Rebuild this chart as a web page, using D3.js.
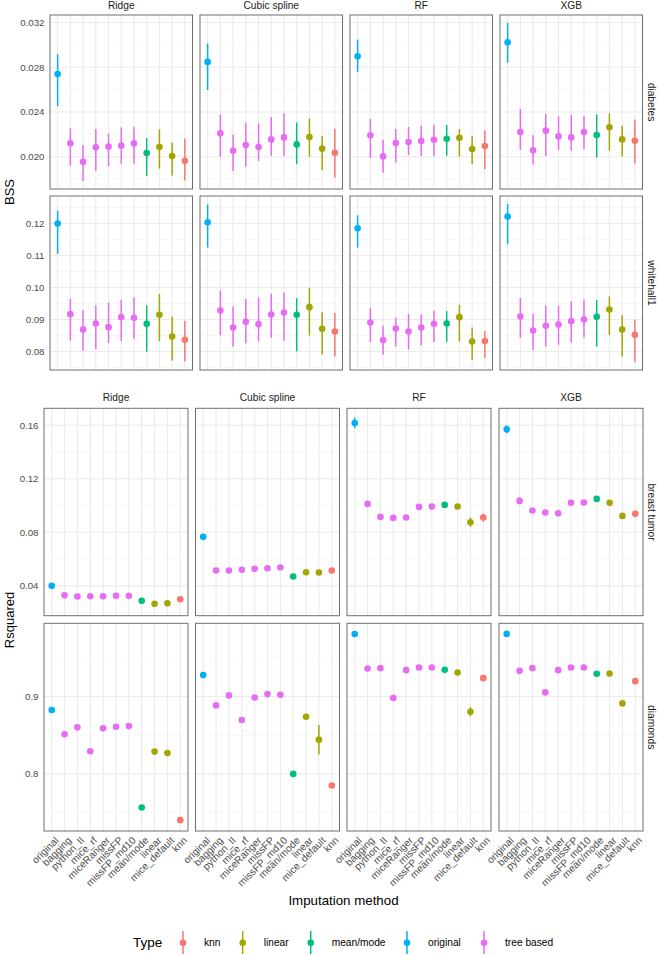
<!DOCTYPE html>
<html><head><meta charset="utf-8">
<script src="https://cdn.jsdelivr.net/npm/d3@7"></script>
<style>body{margin:0;background:#fff}svg{display:block;font-family:"Liberation Sans",Arial,sans-serif}</style>
</head><body><svg id="c" width="658" height="955"></svg>
<script>
const methods = ["original","bagging","python_II","mice_rf","miceRanger","missFP","missFP_md10","mean/mode","linear","mice_default","knn"];
const methodType = ["original","tree based","tree based","tree based","tree based","tree based","tree based","mean/mode","linear","linear","knn"];
const models = ["Ridge","Cubic spline","RF","XGB"];
const typeNames = ["knn","linear","mean/mode","original","tree based"];
const typeColors = ["#F8766D","#A3A500","#00BF7D","#00B0F6","#E76BF3"];

// BSS – diabetes
const diabetesRidge    = [0.0274,0.0212,0.01955,0.02084,0.0209,0.02099,0.02119,0.02033,0.02087,0.02006,0.01964];
const diabetesRidgeLo  = [0.02454,0.01919,0.01782,0.01875,0.01916,0.01937,0.01937,0.01827,0.01893,0.01833,0.01788];
const diabetesRidgeHi  = [0.02916,0.02254,0.02104,0.02248,0.02206,0.02263,0.02269,0.02167,0.02245,0.02125,0.02164];
const diabetesCubic    = [0.02848,0.02209,0.02054,0.02104,0.02087,0.02155,0.02173,0.0211,0.02176,0.02072,0.02036];
const diabetesCubicLo  = [0.02597,0.0200,0.01872,0.0191,0.01961,0.02009,0.02006,0.01934,0.0200,0.01881,0.01815];
const diabetesCubicHi  = [0.03012,0.02379,0.02197,0.02304,0.02299,0.02355,0.02388,0.02307,0.02343,0.02185,0.0225];
const diabetesRF       = [0.02899,0.02191,0.02003,0.02122,0.02131,0.0214,0.02152,0.02161,0.0217,0.02069,0.02096];
const diabetesRFLo     = [0.02758,0.01988,0.01857,0.01949,0.02015,0.02006,0.02006,0.02009,0.02003,0.01934,0.0189];
const diabetesRFHi     = [0.03048,0.02337,0.02152,0.02248,0.02266,0.02278,0.02287,0.02284,0.02248,0.02185,0.02236];
const diabetesXGB      = [0.03024,0.02221,0.02057,0.02233,0.02182,0.02173,0.02221,0.02194,0.02263,0.02155,0.02143];
const diabetesXGBLo    = [0.02842,0.0206,0.01931,0.02006,0.0206,0.02054,0.02069,0.01991,0.02054,0.02003,0.0194];
const diabetesXGBHi    = [0.03197,0.02427,0.02191,0.02382,0.02361,0.0237,0.02364,0.02379,0.02388,0.02278,0.02334];

// BSS – whitehall1
const whitehallRidge   = [0.12,0.09167,0.08688,0.08875,0.0876,0.09073,0.09052,0.08865,0.09146,0.08469,0.08365];
const whitehallRidgeLo = [0.11052,0.08344,0.08021,0.08073,0.08271,0.08323,0.08396,0.0799,0.08323,0.07719,0.07688];
const whitehallRidgeHi = [0.12406,0.09646,0.09292,0.09448,0.09531,0.09615,0.09698,0.09448,0.09802,0.09083,0.08958];
const whitehallCubic   = [0.12042,0.09281,0.0875,0.08927,0.08854,0.09156,0.09219,0.09146,0.09385,0.08708,0.08625];
const whitehallCubicLo = [0.1125,0.0851,0.08156,0.0826,0.08313,0.08427,0.08333,0.08,0.085,0.07906,0.07844];
const whitehallCubicHi = [0.12594,0.09906,0.09406,0.09646,0.09688,0.09802,0.09844,0.09667,0.0999,0.09229,0.09208];
const whitehallRF      = [0.11854,0.08906,0.08354,0.08719,0.08625,0.0875,0.08865,0.08875,0.09073,0.08313,0.08323];
const whitehallRFLo    = [0.1125,0.08292,0.07896,0.08156,0.08063,0.08188,0.08292,0.08302,0.08313,0.07729,0.07792];
const whitehallRFHi    = [0.1226,0.09365,0.08802,0.09052,0.09177,0.09146,0.09271,0.0926,0.09458,0.0875,0.08635];
const whitehallXGB     = [0.12219,0.09094,0.08656,0.08802,0.08844,0.08948,0.09,0.09083,0.09313,0.08688,0.08521];
const whitehallXGBLo   = [0.11354,0.08427,0.08042,0.08156,0.08208,0.08281,0.08438,0.08156,0.0851,0.07844,0.07667];
const whitehallXGBHi   = [0.12615,0.09677,0.09177,0.09438,0.09427,0.09573,0.09625,0.09604,0.09719,0.09135,0.0899];

// Rsquared – breast tumor (value, half-width of interval)
const breastRidge      = [0.040,0.03303,0.03203,0.03228,0.03228,0.03253,0.03253,0.0288,0.02656,0.02705,0.03004];
const breastRidgeErr   = [0.0015,0.0012,0.0012,0.0012,0.0012,0.0012,0.0012,0.0014,0.0018,0.0015,0.0015];
const breastCubic      = [0.0766,0.05145,0.05145,0.05195,0.0527,0.0532,0.05369,0.04697,0.05021,0.04996,0.05145];
const breastCubicErr   = [0.0015,0.0012,0.0012,0.0012,0.0012,0.0012,0.0012,0.0014,0.0014,0.0014,0.0014];
const breastRF         = [0.1617,0.10124,0.09153,0.09079,0.09104,0.099,0.09925,0.1005,0.09925,0.08755,0.09104];
const breastRFErr      = [0.0039,0.0022,0.0018,0.0018,0.0018,0.0018,0.0018,0.0018,0.0018,0.0036,0.003];
const breastXGB        = [0.157,0.10348,0.09627,0.09477,0.09427,0.102,0.10224,0.10498,0.102,0.09228,0.09378];
const breastXGBErr     = [0.003,0.0025,0.0022,0.0022,0.0018,0.0018,0.0018,0.0018,0.0018,0.0018,0.0025];

// Rsquared – diamonds
const diamondsRidge    = [0.8824,0.8511,0.8601,0.8292,0.8588,0.8609,0.8618,0.7567,0.8288,0.827,0.7403];
const diamondsRidgeErr = [0.0015,0.0015,0.0015,0.0015,0.0015,0.0015,0.0015,0.0015,0.0015,0.0015,0.0018];
const diamondsCubic    = [0.9275,0.8884,0.9013,0.8695,0.8987,0.903,0.9021,0.80,0.8738,0.8442,0.785];
const diamondsCubicErr = [0.0015,0.0015,0.0015,0.0015,0.0015,0.0015,0.0015,0.0015,0.0015,0.019,0.0015];
const diamondsRF       = [0.9805,0.936,0.9365,0.8979,0.9339,0.9373,0.9373,0.9343,0.9309,0.8803,0.9236];
const diamondsRFErr    = [0.001,0.0015,0.0015,0.0015,0.0015,0.0015,0.0015,0.0015,0.0015,0.006,0.0015];
const diamondsXGB      = [0.9807,0.933,0.9365,0.9052,0.9339,0.9373,0.9373,0.9292,0.9296,0.891,0.9197];
const diamondsXGBErr   = [0.0015,0.0015,0.0015,0.0015,0.0015,0.0015,0.0015,0.0015,0.0015,0.0015,0.0015];

// tick labels
const diabetesTicks = ["0.020","0.024","0.028","0.032"];
const diabetesMinor = [0.018,0.022,0.026,0.030];
const whitehallTicks = ["0.08","0.09","0.10","0.11","0.12"];
const whitehallMinor = [0.075,0.085,0.095,0.105,0.115,0.125];
const breastTicks = ["0.04","0.08","0.12","0.16"];
const breastMinor = [0.02,0.06,0.10,0.14];
const diamondsTicks = ["0.8","0.9"];
const diamondsMinor = [0.75,0.85,0.95];

function rowsFromErr(mids, errs){ return mids.map((m,k)=>({mid:m, lo:m.map((v,i)=>v-errs[k][i]), hi:m.map((v,i)=>v+errs[k][i])})); }

const blocks = [
  { title:"BSS", titleY:192, lefts:[50,200,350,500], width:142.5, showX:false,
    rows:[
      {name:"diabetes", top:15, bottom:189, ticks:diabetesTicks, minor:diabetesMinor,
       panels:[{mid:diabetesRidge,lo:diabetesRidgeLo,hi:diabetesRidgeHi},{mid:diabetesCubic,lo:diabetesCubicLo,hi:diabetesCubicHi},{mid:diabetesRF,lo:diabetesRFLo,hi:diabetesRFHi},{mid:diabetesXGB,lo:diabetesXGBLo,hi:diabetesXGBHi}]},
      {name:"whitehall1", top:196, bottom:370, ticks:whitehallTicks, minor:whitehallMinor,
       panels:[{mid:whitehallRidge,lo:whitehallRidgeLo,hi:whitehallRidgeHi},{mid:whitehallCubic,lo:whitehallCubicLo,hi:whitehallCubicHi},{mid:whitehallRF,lo:whitehallRFLo,hi:whitehallRFHi},{mid:whitehallXGB,lo:whitehallXGBLo,hi:whitehallXGBHi}]}
    ], stripY:9 },
  { title:"Rsquared", titleY:620, lefts:[44,195.5,347,499], width:144, showX:true,
    rows:[
      {name:"breast tumor", top:408.3, bottom:615.7, ticks:breastTicks, minor:breastMinor,
       panels:rowsFromErr([breastRidge,breastCubic,breastRF,breastXGB],[breastRidgeErr,breastCubicErr,breastRFErr,breastXGBErr])},
      {name:"diamonds", top:623.3, bottom:831, ticks:diamondsTicks, minor:diamondsMinor,
       panels:rowsFromErr([diamondsRidge,diamondsCubic,diamondsRF,diamondsXGB],[diamondsRidgeErr,diamondsCubicErr,diamondsRFErr,diamondsXGBErr])}
    ], stripY:401 }
];

const svg = d3.select("#c");
const color = d3.scaleOrdinal().domain(typeNames).range(typeColors);
const tickColor = "#4D4D4D";

blocks.forEach(b=>{
  const g = svg.append("g");
  models.forEach((m,j)=>{
    g.append("text").attr("x", b.lefts[j]+b.width/2).attr("y", b.stripY)
      .attr("text-anchor","middle").attr("font-size",10.2).attr("fill","#1A1A1A").text(m);
  });
  b.rows.forEach(r=>{
    const all = r.panels.flatMap(p=>p.lo.concat(p.hi));
    const mn = d3.min(all), mx = d3.max(all), pad=(mx-mn)*0.05;
    const y = d3.scaleLinear().domain([mn-pad, mx+pad]).range([r.bottom, r.top]);
    const tickVals = r.ticks.map(Number);
    tickVals.forEach((t,i)=>{
      g.append("text").attr("x", b.lefts[0]-5.5).attr("y", y(t)).attr("dy","0.35em")
        .attr("text-anchor","end").attr("font-size",9.7).attr("fill",tickColor).text(r.ticks[i]);
    });
    const cx = b.lefts[3]+b.width+9, cy=(r.top+r.bottom)/2;
    g.append("text").attr("transform",`translate(${cx},${cy}) rotate(90)`).attr("text-anchor","middle")
      .attr("dy","0.35em").attr("font-size",10.2).attr("fill","#1A1A1A").text(r.name);

    r.panels.forEach((p,j)=>{
      const x = d3.scalePoint().domain(methods).range([b.lefts[j], b.lefts[j]+b.width]).padding(0.6);
      const pg = g.append("g");
      const x0=b.lefts[j], x1=b.lefts[j]+b.width;
      pg.selectAll(".mn").data(r.minor.filter(v=>y(v)>r.top && y(v)<r.bottom)).join("line")
        .attr("x1",x0).attr("x2",x1).attr("y1",d=>y(d)).attr("y2",d=>y(d))
        .attr("stroke","#F2F2F2").attr("stroke-width",0.6);
      pg.selectAll(".mj").data(tickVals).join("line")
        .attr("x1",x0).attr("x2",x1).attr("y1",d=>y(d)).attr("y2",d=>y(d))
        .attr("stroke","#EBEBEB").attr("stroke-width",1.1);
      pg.selectAll(".vx").data(methods).join("line")
        .attr("x1",d=>x(d)).attr("x2",d=>x(d)).attr("y1",r.top).attr("y2",r.bottom)
        .attr("stroke","#EBEBEB").attr("stroke-width",1.1);
      pg.selectAll(".eb").data(methods).join("line")
        .attr("x1",d=>x(d)).attr("x2",d=>x(d))
        .attr("y1",(d,i)=>y(p.lo[i])).attr("y2",(d,i)=>y(p.hi[i]))
        .attr("stroke",(d,i)=>color(methodType[i])).attr("stroke-width",1.5);
      pg.selectAll(".pt").data(methods).join("circle")
        .attr("cx",d=>x(d)).attr("cy",(d,i)=>y(p.mid[i])).attr("r",3.3)
        .attr("fill",(d,i)=>color(methodType[i]));
      pg.append("rect").attr("x",x0).attr("y",r.top).attr("width",b.width).attr("height",r.bottom-r.top)
        .attr("fill","none").attr("stroke","#6E6E6E").attr("stroke-width",1);
      if(b.showX && r===b.rows[b.rows.length-1]){
        methods.forEach(m=>{
          pg.append("text").attr("transform",`translate(${x(m)+2.5},${r.bottom+5}) rotate(-45)`)
            .attr("text-anchor","end").attr("dy","0.7em").attr("font-size",10.2).attr("fill",tickColor).text(m);
        });
      }
    });
  });
  g.append("text").attr("transform",`translate(14,${b.titleY}) rotate(-90)`).attr("text-anchor","middle")
    .attr("font-size",13).attr("fill","#000").text(b.title);
});

svg.append("text").attr("x",343.5).attr("y",904.5).attr("text-anchor","middle").attr("font-size",13.3).attr("fill","#000").text("Imputation method");

const lg = svg.append("g");
lg.append("text").attr("x",133).attr("y",942.7).attr("dy","0.35em").attr("font-size",13.5).attr("fill","#000").text("Type");
const keyX = [183,242.7,310.7,407,484];
typeNames.forEach((t,i)=>{
  lg.append("line").attr("x1",keyX[i]).attr("x2",keyX[i]).attr("y1",931).attr("y2",954)
    .attr("stroke",color(t)).attr("stroke-width",1.5);
  lg.append("circle").attr("cx",keyX[i]).attr("cy",942.7).attr("r",3.3).attr("fill",color(t));
  lg.append("text").attr("x",keyX[i]+21).attr("y",942.7).attr("dy","0.35em").attr("font-size",10.2).attr("fill","#000").text(t);
});
</script></body></html>
